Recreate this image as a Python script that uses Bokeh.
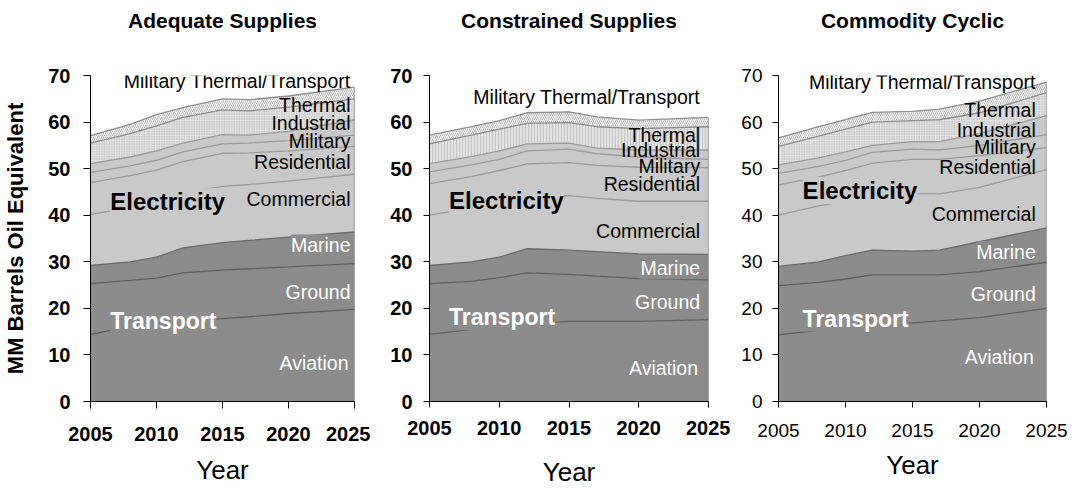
import numpy as np
from bokeh.plotting import figure
from bokeh.layouts import row
from bokeh.models import FixedTicker, Label, Range1d, Title
from bokeh.embed import file_html
from bokeh.resources import INLINE

# ---------------- data ----------------
years = [2005, 2008, 2010, 2012, 2015, 2017, 2020, 2025]
x_ticks = [2005, 2010, 2015, 2020, 2025]
y_ticks = [0, 10, 20, 30, 40, 50, 60, 70]

titles = ["Adequate Supplies", "Constrained Supplies", "Commodity Cyclic"]
series = ["Aviation", "Ground", "Marine", "Commercial", "Residential",
          "Military", "Industrial", "Thermal", "Military Thermal/Transport"]

# Adequate Supplies (MM barrels oil equivalent per series)
aviation_a = [14.4, 16.1, 16.6, 17.1, 17.8, 18.2, 18.9, 19.8]
ground_a = [10.9, 9.9, 9.9, 10.5, 10.4, 10.3, 10.0, 9.8]
marine_a = [3.9, 4.0, 4.5, 5.4, 5.9, 6.1, 6.4, 6.8]
commercial_a = [11.0, 11.6, 11.7, 11.8, 12.1, 12.0, 12.0, 12.4]
residential_a = [6.8, 6.9, 7.0, 6.7, 7.1, 6.8, 6.5, 6.0]
military_a = [2.2, 2.1, 2.1, 2.1, 2.0, 2.1, 2.2, 2.4]
industrial_a = [1.9, 1.9, 2.0, 1.9, 2.0, 1.7, 2.0, 3.3]
thermal_a = [4.4, 5.0, 5.4, 5.5, 5.3, 5.2, 5.2, 4.5]
mil_tt_a = [1.6, 2.0, 2.4, 2.1, 2.4, 2.4, 2.4, 2.5]

# Constrained Supplies
aviation_c = [14.4, 15.5, 16.0, 16.6, 17.2, 17.2, 17.2, 17.6]
ground_c = [10.9, 10.3, 10.6, 11.0, 10.1, 9.7, 9.2, 8.5]
marine_c = [3.9, 4.2, 4.4, 5.2, 5.2, 5.3, 5.3, 5.5]
commercial_c = [10.8, 11.5, 11.8, 11.2, 11.7, 11.4, 11.3, 11.4]
residential_c = [6.8, 6.8, 6.8, 7.0, 7.1, 7.1, 7.3, 7.2]
military_c = [2.5, 2.5, 2.4, 2.8, 2.9, 2.5, 2.2, 1.8]
industrial_c = [1.8, 1.8, 1.8, 1.5, 1.3, 1.2, 1.5, 2.0]
thermal_c = [4.2, 4.6, 4.7, 4.4, 4.4, 4.6, 4.6, 5.0]
mil_tt_c = [1.9, 1.8, 1.8, 2.3, 2.3, 2.1, 1.8, 2.0]

# Commodity Cyclic
aviation_y = [14.3, 15.3, 15.8, 16.3, 16.9, 17.3, 18.0, 20.0]
ground_y = [10.6, 10.3, 10.5, 10.9, 10.3, 9.9, 9.9, 9.9]
marine_y = [4.1, 4.4, 5.0, 5.3, 5.1, 5.3, 6.4, 7.4]
commercial_y = [11.0, 12.0, 11.7, 11.3, 12.3, 12.1, 11.7, 12.5]
residential_y = [6.5, 6.2, 6.6, 7.4, 7.4, 7.4, 6.8, 4.7]
military_y = [2.5, 2.3, 2.2, 2.3, 2.2, 2.0, 2.2, 2.8]
industrial_y = [1.8, 1.8, 1.8, 1.5, 1.6, 1.8, 2.5, 4.1]
thermal_y = [4.0, 4.7, 4.9, 5.0, 4.5, 4.7, 4.5, 4.9]
mil_tt_y = [1.8, 2.0, 2.0, 2.1, 2.0, 2.3, 2.5, 2.3]

panels_data = [
    [aviation_a, ground_a, marine_a, commercial_a, residential_a, military_a, industrial_a, thermal_a, mil_tt_a],
    [aviation_c, ground_c, marine_c, commercial_c, residential_c, military_c, industrial_c, thermal_c, mil_tt_c],
    [aviation_y, ground_y, marine_y, commercial_y, residential_y, military_y, industrial_y, thermal_y, mil_tt_y],
]

# ---------------- styles ----------------
FONT = "Liberation Sans"
DARK = "#8c8c8c"
LIGHT = "#c9c9c9"
band_style = [
    dict(fill_color=DARK, line="#5e5e5e"),
    dict(fill_color=DARK, line="#5e5e5e"),
    dict(fill_color=DARK, line="#6a6a6a"),
    dict(fill_color=LIGHT, line="#9a9a9a"),
    dict(fill_color=LIGHT, line="#9a9a9a"),
    dict(fill_color=LIGHT, line="#9a9a9a"),
    dict(fill_color=LIGHT, line="#9a9a9a"),
    dict(fill_color="#e2e2e2", line="#8e8e8e", hatch="thermal"),
    dict(fill_color="#f7f7f7", line="#8e8e8e", hatch="right_diagonal_line"),
]

FIG_H = 489
BORDER_TOP = 75
BORDER_BOTTOM = 87
layout_cfg = [
    dict(width=370, left=88, right=16,
         tick_bold=True, tick_out=7, xstand=18, ystand=13, ylabel=True,
         year_stand=11, thermal_hatch="dot",
         right_x=2024.7, left_x=2006.5,
         ly=dict(mtt=68.9, thermal=63.6, industrial=59.9, military=56.0, residential=51.5,
                 commercial=43.4, electricity=42.9, marine=33.5, ground=23.6,
                 transport=17.2, aviation=8.2)),
    dict(width=360, left=59, right=22,
         tick_bold=True, tick_out=6, xstand=13, ystand=11, ylabel=False,
         year_stand=19, thermal_hatch="vertical_line",
         right_x=2024.4, left_x=2006.4,
         ly=dict(mtt=65.4, thermal=57.2, industrial=54.0, military=50.5, residential=46.7,
                 commercial=36.6, electricity=43.2, marine=28.6, ground=21.3,
                 transport=18.1, aviation=7.3)),
    dict(width=341, left=48, right=25,
         tick_bold=False, tick_out=6, xstand=16, ystand=10, ylabel=False,
         year_stand=10, thermal_hatch="dot",
         right_x=2024.2, left_x=2006.8,
         ly=dict(mtt=68.7, thermal=62.6, industrial=58.4, military=54.6, residential=50.3,
                 commercial=40.2, electricity=45.3, marine=32.1, ground=23.0,
                 transport=17.8, aviation=9.5)),
]


def make_panel(idx):
    cfg = layout_cfg[idx]
    data = panels_data[idx]
    p = figure(width=cfg["width"], height=FIG_H, output_backend="svg",
               toolbar_location=None, x_range=Range1d(2005, 2025),
               y_range=Range1d(0, 70),
               min_border_left=cfg["left"], min_border_right=cfg["right"],
               min_border_top=BORDER_TOP, min_border_bottom=BORDER_BOTTOM)
    p.outline_line_color = None
    p.grid.visible = False
    p.background_fill_color = "white"
    p.border_fill_color = "white"

    # title (outermost) with an empty spacer between it and the plot area
    p.add_layout(Title(text=" ", text_font_size="10px", standoff=29), "above")
    p.title.text = titles[idx]
    p.title.align = "center"
    p.title.text_font = FONT
    p.title.text_font_size = "21px"
    p.title.text_font_style = "bold"
    p.title.text_color = "black"
    p.title.standoff = 4

    x = np.array(years, dtype=float)
    stack = np.cumsum(np.array(data, dtype=float), axis=0)
    bottom = np.zeros_like(x)
    for i, top in enumerate(stack):
        st = band_style[i]
        kw = dict(fill_color=st["fill_color"])
        if st.get("hatch") == "thermal":
            pat = cfg["thermal_hatch"]
            if pat == "vertical_line":
                kw.update(hatch_pattern=pat, hatch_color="#b4b4b4",
                          hatch_scale=3, hatch_weight=0.6)
            else:
                kw.update(hatch_pattern=pat, hatch_color="#aaaaaa",
                          hatch_scale=2.5, hatch_weight=0.6)
        elif "hatch" in st:
            kw.update(hatch_pattern=st["hatch"], hatch_color="#a4a4a4",
                      hatch_scale=4, hatch_weight=0.7)
        p.varea(x=x, y1=bottom, y2=top, **kw)
        bottom = top
    for i, top in enumerate(stack):
        p.line(x, top, line_color=band_style[i]["line"], line_width=1.3)
    # right edge of the stacked area
    p.segment(x0=[x[-1]], y0=[0], x1=[x[-1]], y1=[stack[-1][-1]], line_color="#6a6a6a", line_width=1.2)

    # axes
    for ax in (p.xaxis[0], p.yaxis[0]):
        ax.axis_line_color = "black"
        ax.axis_line_width = 1
        ax.major_tick_line_color = "black"
        ax.major_tick_out = cfg["tick_out"]
        ax.major_tick_in = 0
        ax.minor_tick_line_color = None
        ax.major_label_text_font = FONT
        ax.major_label_text_font_size = "20px" if cfg["tick_bold"] else "19px"
        ax.major_label_text_font_style = "bold" if cfg["tick_bold"] else "normal"
        ax.major_label_text_color = "black"
    p.xaxis.ticker = FixedTicker(ticks=x_ticks)
    p.yaxis.ticker = FixedTicker(ticks=y_ticks)
    p.xaxis.major_label_standoff = cfg["xstand"]
    p.yaxis.major_label_standoff = cfg["ystand"]
    p.xaxis.axis_label = "Year"
    p.xaxis.axis_label_text_font = FONT
    p.xaxis.axis_label_text_font_size = "26px"
    p.xaxis.axis_label_text_font_style = "normal"
    p.xaxis.axis_label_text_color = "black"
    p.xaxis.axis_label_standoff = cfg["year_stand"]
    if cfg["ylabel"]:
        p.yaxis.axis_label = "MM Barrels Oil Equivalent"
        p.yaxis.axis_label_text_font = FONT
        p.yaxis.axis_label_text_font_size = "22px"
        p.yaxis.axis_label_text_font_style = "bold"
        p.yaxis.axis_label_text_color = "black"
        p.yaxis.axis_label_standoff = 17

    ly = cfg["ly"]
    rx, lx = cfg["right_x"], cfg["left_x"]

    def lab(text, xv, yv, align, color="black", size="19.5px", style="normal", bg=None):
        p.add_layout(Label(x=xv, y=yv, text=text, text_align=align, text_baseline="middle",
                           text_font=FONT, text_font_size=size, text_font_style=style,
                           text_color=color, background_fill_color=bg))

    lab("Military Thermal/Transport", rx, ly["mtt"], "right")
    lab("Thermal", rx, ly["thermal"], "right")
    lab("Industrial", rx, ly["industrial"], "right")
    lab("Military", rx, ly["military"], "right")
    lab("Residential", rx, ly["residential"], "right")
    lab("Commercial", rx, ly["commercial"], "right", bg=LIGHT)
    lab("Electricity", lx, ly["electricity"], "left", size="24px", style="bold", bg=LIGHT)
    lab("Marine", rx, ly["marine"], "right", color="white", bg=DARK)
    lab("Ground", rx, ly["ground"], "right", color="white", bg=DARK)
    lab("Transport", lx, ly["transport"], "left", color="white", size="23px", style="bold", bg=DARK)
    lab("Aviation", rx - 0.15, ly["aviation"], "right", color="white", bg=DARK)
    return p


figs = [make_panel(i) for i in range(3)]
layout = row(*figs, spacing=0)
open("out.html", "w").write(file_html(layout, INLINE))
